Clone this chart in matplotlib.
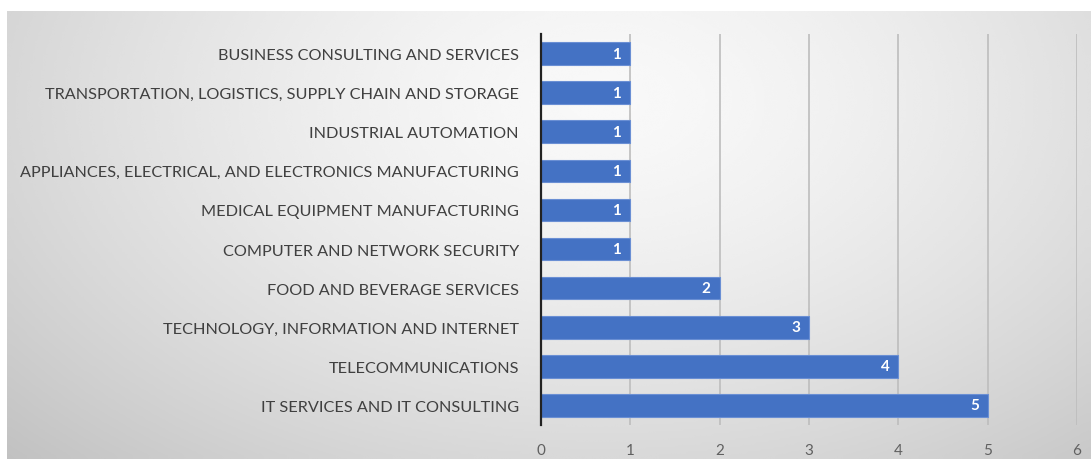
import numpy as np
import matplotlib
matplotlib.use('Agg')
import matplotlib.pyplot as plt

# industries, bottom to top as drawn
industries = [
    "IT SERVICES AND IT CONSULTING",
    "TELECOMMUNICATIONS",
    "TECHNOLOGY, INFORMATION AND INTERNET",
    "FOOD AND BEVERAGE SERVICES",
    "COMPUTER AND NETWORK SECURITY",
    "MEDICAL EQUIPMENT MANUFACTURING",
    "APPLIANCES, ELECTRICAL, AND ELECTRONICS MANUFACTURING",
    "INDUSTRIAL AUTOMATION",
    "TRANSPORTATION, LOGISTICS, SUPPLY CHAIN AND STORAGE",
    "BUSINESS CONSULTING AND SERVICES",
]
counts = [5, 4, 3, 2, 1, 1, 1, 1, 1, 1]
xticks = [0, 1, 2, 3, 4, 5, 6]

W, H = 1091, 460
fig = plt.figure(figsize=(W / 100, H / 100), dpi=100)
fig.patch.set_facecolor('white')

# grey radial-ish backdrop like the slide background
bg = fig.add_axes([7 / W, 0, 1 - 7 / W, (H - 12) / H], zorder=0)
yy, xx = np.mgrid[0:1:200j, 0:1:400j]
r = np.sqrt(((xx - 0.55) / 0.7) ** 2 + ((yy - 0.8) / 1.05) ** 2)
shade = 0.975 - 0.19 * np.clip(r, 0, 1.2) ** 1.5
bg.imshow(shade, cmap='gray', vmin=0, vmax=1, aspect='auto', origin='lower',
          extent=[0, 1, 0, 1], interpolation='bicubic')
bg.axis('off')

ax = fig.add_axes([541 / W, (H - 426) / H, 536 / W, 391 / H], zorder=1)
ax.patch.set_alpha(0)
y = np.arange(len(industries))
ax.barh(y, counts, height=0.58, color='#4472C4', edgecolor='#6a8fd4',
        linewidth=0.8, zorder=3)
for yi, c in zip(y, counts):
    ax.text(c - 0.1, yi, str(c), ha='right', va='center', color='white',
            fontsize=11, fontweight='bold', family='Lato', zorder=4)

ax.set_xlim(0, 6)
ax.set_ylim(-0.5, len(industries) - 0.5)
ax.set_xticks(xticks)
ax.set_yticks(y)
ax.set_yticklabels(industries, family='Lato', fontsize=11.7, color='#404040')
ax.tick_params(axis='x', length=0, pad=13, labelsize=11, labelcolor='#606060')
ax.tick_params(axis='y', length=0, pad=16)
for lbl in ax.get_xticklabels():
    lbl.set_family('Lato')
ax.grid(axis='x', color='#bdbdbd', lw=1.2, zorder=1)
for s in ['top', 'right', 'bottom']:
    ax.spines[s].set_visible(False)
ax.spines['left'].set_color('#222222')
ax.spines['left'].set_linewidth(1.6)
ax.spines['left'].set_zorder(5)

fig.savefig('out.png', dpi=100, facecolor=fig.get_facecolor())
